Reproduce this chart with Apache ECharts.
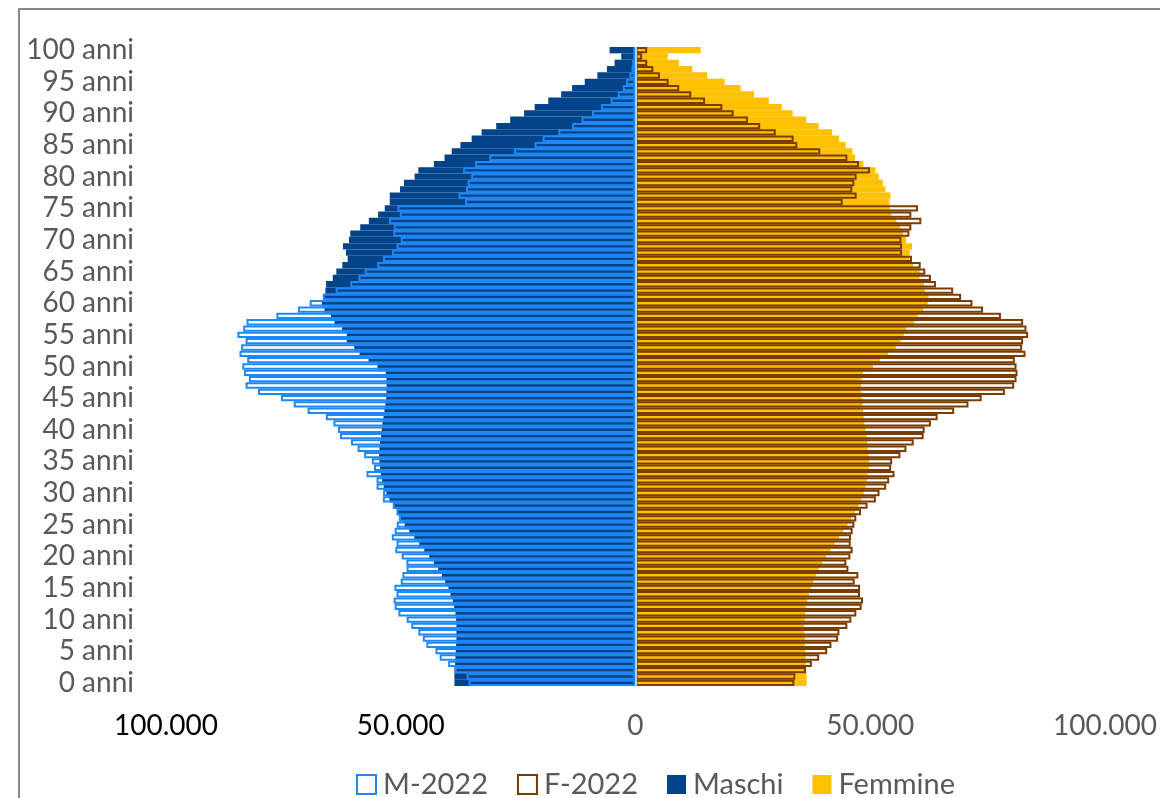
<!DOCTYPE html>
<html>
<head>
<meta charset="utf-8">
<script src="https://cdn.jsdelivr.net/npm/echarts@6/dist/echarts.min.js"></script>
<style>
  html, body { margin: 0; padding: 0; background: #fff; }
  #piramide { width: 1160px; height: 798px; }
</style>
</head>
<body>
<div id="piramide"></div>
<script>
// eta 0..100 (index = eta)
var eta = [];
for (var i = 0; i <= 100; i++) eta.push(i + ' anni');

// Maschi (proiezione)
var maschi = [38570, 38570, 38570, 38420, 38350, 38280, 38210, 38140, 38140, 38140,
  38210, 38350, 38640, 38920, 39410, 39840, 40540, 41250, 42030, 42940,
  43930, 44990, 46050, 47110, 48170, 49160, 50010, 50710, 51490, 52410,
  53050, 53610, 53960, 54250, 54390, 54530, 54600, 54530, 54390, 54180,
  54030, 53890, 53680, 53470, 53260, 53100, 53050, 53000, 53050, 53190,
  54950, 56860, 58770, 59900, 61500, 61500, 62500, 64100, 64850, 66250,
  66800, 66500, 66050, 65900, 64480, 63720, 62450, 61300, 61660, 62300,
  61030, 60750, 58630, 56790, 54820, 53400, 52340, 52340, 50160, 49310,
  47040, 46260, 42950, 40680, 39140, 37290, 34900, 32780, 29670, 26700,
  23730, 21470, 18580, 15830, 13500, 10810, 8120, 6080, 4450, 3030, 5510];

// Femmine (proiezione)
var femmine = [36450, 36450, 36380, 36310, 36240, 36160, 36090, 36020, 35950, 35950,
  36020, 36160, 36310, 36590, 36940, 37360, 37860, 38420, 39060, 39760,
  40610, 41530, 42380, 43370, 44290, 45130, 45910, 46760, 47470, 48100,
  48600, 49020, 49300, 49510, 49720, 49720, 49650, 49510, 49370, 49230,
  49020, 48740, 48600, 48460, 48310, 48240, 48100, 48030, 48170, 48460,
  50580, 52060, 53750, 55450, 56510, 57140, 57640, 59410, 60110, 61240,
  62230, 62440, 61600, 61450, 60470, 60540, 59120, 58350, 58420, 58910,
  57640, 57000, 56300, 55580, 54520, 54180, 54100, 54310, 53250, 52700,
  51850, 51140, 48530, 46760, 46190, 44780, 43370, 41890, 38990, 36380,
  33480, 31150, 28400, 25280, 22400, 19000, 15260, 12080, 9250, 6850, 13900];

// M-2022
var m2022 = [35550, 35950, 38500, 39900, 41700, 42600, 44550, 45300, 46250, 47750,
  48750, 50500, 51300, 51500, 50900, 51350, 50000, 49650, 48750, 48800,
  49800, 51150, 50900, 51900, 51300, 50850, 50400, 50900, 51700, 53800,
  53750, 55150, 55150, 57300, 55700, 56150, 57800, 59200, 60600, 62950,
  63350, 64350, 65950, 69850, 72800, 75500, 80400, 83050, 82350, 83400,
  83750, 82700, 84350, 84000, 83050, 84800, 83550, 82850, 76500, 71900,
  69400, 66600, 63850, 60750, 59000, 57700, 55000, 53800, 51850, 50900,
  50000, 51600, 51500, 52500, 50200, 50700, 36300, 37700, 36100, 35750,
  35000, 36700, 34200, 31150, 25900, 21500, 19800, 16450, 13500, 11500,
  9250, 7350, 5300, 3800, 2700, 2000, 1300, 850, 700, 500, 500];

// F-2022
var f2022 = [33840, 34050, 36310, 37570, 39130, 40830, 41740, 43160, 43440, 45130,
  45980, 47040, 48170, 48460, 47820, 47820, 46690, 47470, 45350, 44920,
  45770, 46260, 45840, 45910, 46260, 46620, 47040, 48030, 49440, 51210,
  51980, 53400, 54040, 55170, 54460, 54670, 56440, 57710, 59260, 61380,
  61590, 62930, 64350, 67880, 70920, 73740, 78690, 80660, 81160, 81370,
  81160, 80800, 83070, 82360, 82570, 83630, 83280, 82570, 77840, 74030,
  71770, 69360, 67670, 64000, 62930, 61730, 60750, 58900, 56790, 56790,
  56640, 58340, 58760, 60880, 58760, 60180, 44140, 47110, 46190, 46620,
  47110, 49940, 47610, 45130, 39350, 34470, 33690, 29880, 26560, 23950,
  20900, 18500, 14830, 11870, 9320, 7060, 5200, 3800, 2500, 1400, 2500];

var FONT = 'Lato';

function neg(arr) {
  return arr.map(function (v) { return -v; });
}
function migliaia(v) {
  return String(Math.abs(v)).replace(/\B(?=(\d{3})+(?!\d))/g, '.');
}

var myChart = echarts.init(document.getElementById('piramide'));

var option = {
  animation: false,
  backgroundColor: '#fff',
  textStyle: { fontFamily: FONT },
  graphic: [{
    type: 'rect',
    silent: true,
    z: -10,
    shape: { x: 19, y: 9, width: 1400, height: 1000 },
    style: { fill: 'none', stroke: '#898989', lineWidth: 2 }
  }],
  grid: { left: 166, right: 50, top: 47, bottom: 112, containLabel: false },
  legend: {
    data: ['M-2022', 'F-2022', 'Maschi', 'Femmine'],
    left: 351,
    top: 765,
    icon: 'rect',
    itemWidth: 19,
    itemHeight: 19,
    itemGap: 29,
    textStyle: { fontFamily: FONT, fontSize: 29, color: '#595959', padding: [0, 0, 0, 2] }
  },
  xAxis: {
    type: 'value',
    min: -100000,
    max: 100000,
    interval: 50000,
    splitLine: { show: false },
    axisLine: { show: false },
    axisTick: { show: false },
    axisLabel: {
      margin: 26,
      fontSize: 28,
      fontFamily: FONT,
      formatter: migliaia,
      color: function (v) { return Number(v) < 0 ? '#000000' : '#595959'; }
    }
  },
  yAxis: {
    type: 'category',
    data: eta,
    axisLine: { show: false, onZero: false },
    axisTick: { show: false },
    axisLabel: {
      interval: 4,
      margin: 32,
      fontSize: 28,
      fontFamily: FONT,
      color: '#595959'
    }
  },
  series: [{
    name: 'Maschi',
    type: 'bar',
    barGap: '-100%',
    barCategoryGap: '0%',
    data: neg(maschi),
    itemStyle: { color: '#034389' }
  }, {
    name: 'Femmine',
    type: 'bar',
    barGap: '-100%',
    barCategoryGap: '0%',
    data: femmine,
    itemStyle: { color: '#FFC000' }
  }, {
    name: 'M-2022',
    type: 'bar',
    barGap: '-100%',
    barCategoryGap: '0%',
    data: neg(m2022),
    itemStyle: { color: 'rgba(255,255,255,0)', borderColor: '#1E88F7', borderWidth: 2 },
    markLine: {
      silent: true,
      symbol: 'none',
      label: { show: false },
      lineStyle: { color: '#C5CCD6', width: 2, type: 'solid' },
      data: [{ xAxis: 0 }]
    }
  }, {
    name: 'F-2022',
    type: 'bar',
    barGap: '-100%',
    barCategoryGap: '0%',
    data: f2022,
    itemStyle: { color: 'rgba(255,255,255,0)', borderColor: '#7A3D00', borderWidth: 2 }
  }]
};

myChart.setOption(option);
</script>
</body>
</html>
